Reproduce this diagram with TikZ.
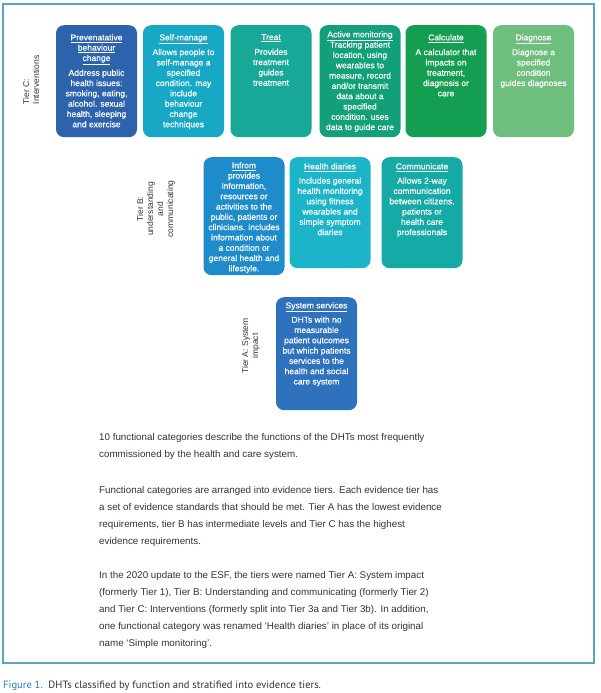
\documentclass[tikz,border=0pt]{standalone}
\usepackage{fontspec}
\setmainfont{Liberation Sans}
\newfontfamily\boxfont[FakeBold=0.6]{Liberation Sans}
\newfontfamily\capfont{PT Sans}
\usepackage{tikz}

\definecolor{framecol}{RGB}{84,168,190}
\definecolor{prevcol}{RGB}{44,99,172}
\definecolor{selfcol}{RGB}{22,168,196}
\definecolor{treatcol}{RGB}{24,168,152}
\definecolor{activecol}{RGB}{18,160,120}
\definecolor{calccol}{RGB}{20,158,82}
\definecolor{diagcol}{RGB}{110,190,126}
\definecolor{infocol}{RGB}{30,140,202}
\definecolor{diarycol}{RGB}{28,180,200}
\definecolor{commcol}{RGB}{22,170,166}
\definecolor{syscol}{RGB}{46,114,190}
\definecolor{figblue}{RGB}{40,125,195}

\newcommand{\ttl}[1]{\underline{#1}}

\begin{document}
\begin{tikzpicture}[x=1pt,y=-1pt]

\useasboundingbox (0,0) rectangle (600,693);

\tikzset{
	catbox/.style={draw=none, rounded corners=8pt, minimum width=81pt, anchor=north, inner sep=0pt},
	cattext/.style={anchor=north, align=center, text=white, inner sep=0pt, font=\boxfont\fontsize{8.5}{10.3}\selectfont},
	tierlabel/.style={rotate=90, text=black!80, inner sep=0pt, font=\fontsize{8.5}{10}\selectfont},
	bodytext/.style={anchor=north west, align=left, inner sep=0pt, text=black!80, font=\fontsize{9.8}{17}\selectfont}
}

%Frame
\draw[framecol, line width=1.4pt] (3,4) rectangle (594,663);

%Tier C
\node[tierlabel, align=left] (tierC) at (31,80) {Tier C:\\Interventions};

\node[catbox, fill=prevcol, minimum height=112pt] (prev) at (96.5,25) {};
\node[cattext] (prevtxt) at ([yshift=-9pt]prev.north) {\ttl{Prevenatative}\\\ttl{behaviour}\\\ttl{change}\\[4.5pt]Address public\\health issues:\\smoking, eating,\\alcohol. sexual\\health, sleeping\\and exercise};

\node[catbox, fill=selfcol, minimum height=112pt] (self) at (183.5,25) {};
\node[cattext] (selftxt) at ([yshift=-9pt]self.north) {\ttl{Self-manage}\\[4.5pt]Allows people to\\self-manage a\\specified\\condition. may\\include\\behaviour\\change\\techniques};

\node[catbox, fill=treatcol, minimum height=112pt] (treat) at (271,25) {};
\node[cattext] (treattxt) at ([yshift=-9pt]treat.north) {\ttl{Treat}\\[4.5pt]Provides\\treatment\\guides\\treatment};

\node[catbox, fill=activecol, minimum height=112pt] (active) at (360,25) {};
\node[cattext] (activetxt) at ([yshift=-6pt]active.north) {\ttl{Active monitoring}\\Tracking patient\\location, using\\wearables to\\measure, record\\and/or transmit\\data about a\\specified\\condition. uses\\data to guide care};

\node[catbox, fill=calccol, minimum height=112pt] (calc) at (446,25) {};
\node[cattext] (calctxt) at ([yshift=-9pt]calc.north) {\ttl{Calculate}\\[4.5pt]A calculator that\\impacts on\\treatment,\\diagnosis or\\care};

\node[catbox, fill=diagcol, minimum height=112pt] (diag) at (533.5,25) {};
\node[cattext] (diagtxt) at ([yshift=-9pt]diag.north) {\ttl{Diagnose}\\[4.5pt]Diagnose a\\specified\\condition\\guides diagnoses};

%Tier B
\node[tierlabel, align=center] (tierB) at (156,209) {Tier B:\\understanding\\and\\communicating};

\node[catbox, fill=infocol, minimum height=118pt] (info) at (244,157) {};
\node[cattext] (infotxt) at ([yshift=-5pt]info.north) {\ttl{Infrom}\\provides\\information,\\resources or\\activities to the\\public, patients or\\clinicians. includes\\information about\\a condition or\\general health and\\lifestyle.};

\node[catbox, fill=diarycol, minimum height=111pt] (diary) at (330,157) {};
\node[cattext] (diarytxt) at ([yshift=-6pt]diary.north) {\ttl{Health diaries}\\[4pt]Includes general\\health monitoring\\using fitness\\wearables and\\simple symptom\\diaries};

\node[catbox, fill=commcol, minimum height=111pt] (comm) at (422,157) {};
\node[cattext] (commtxt) at ([yshift=-6pt]comm.north) {\ttl{Communicate}\\[4pt]Allows 2-way\\communication\\between citizens.\\patients or\\health care\\professionals};

%Tier A
\node[tierlabel, align=center] (tierA) at (251,346) {Tier A: System\\impact};

\node[catbox, fill=syscol, minimum height=113pt] (sys) at (316.5,297) {};
\node[cattext] (systxt) at ([yshift=-5pt]sys.north) {\ttl{System services}\\[4pt]DHTs with no\\measurable\\patient outcomes\\but which patients\\services to the\\health and social\\care system};

%Text
\node[bodytext] (para1) at (99,433) {10 functional categories describe the functions of the DHTs most frequently\\commissioned by the health and care system.};
\node[bodytext] (para2) at (99,486) {Functional categories are arranged into evidence tiers. Each evidence tier has\\a set of evidence standards that should be met. Tier A has the lowest evidence\\requirements, tier B has intermediate levels and Tier C has the highest\\evidence requirements.};
\node[bodytext] (para3) at (99,571) {In the 2020 update to the ESF, the tiers were named Tier A: System impact\\(formerly Tier 1), Tier B: Understanding and communicating (formerly Tier 2)\\and Tier C: Interventions (formerly split into Tier 3a and Tier 3b). In addition,\\one functional category was renamed ‘Health diaries’ in place of its original\\name ‘Simple monitoring’.};

%Caption
\node[anchor=base west, inner sep=0pt, text=black!80, font=\capfont\fontsize{10.6}{12}\selectfont] (caption) at (3,688) {{\color{figblue}Figure 1.}\ \ DHTs classified by function and stratified into evidence tiers.};

\end{tikzpicture}
\end{document}
